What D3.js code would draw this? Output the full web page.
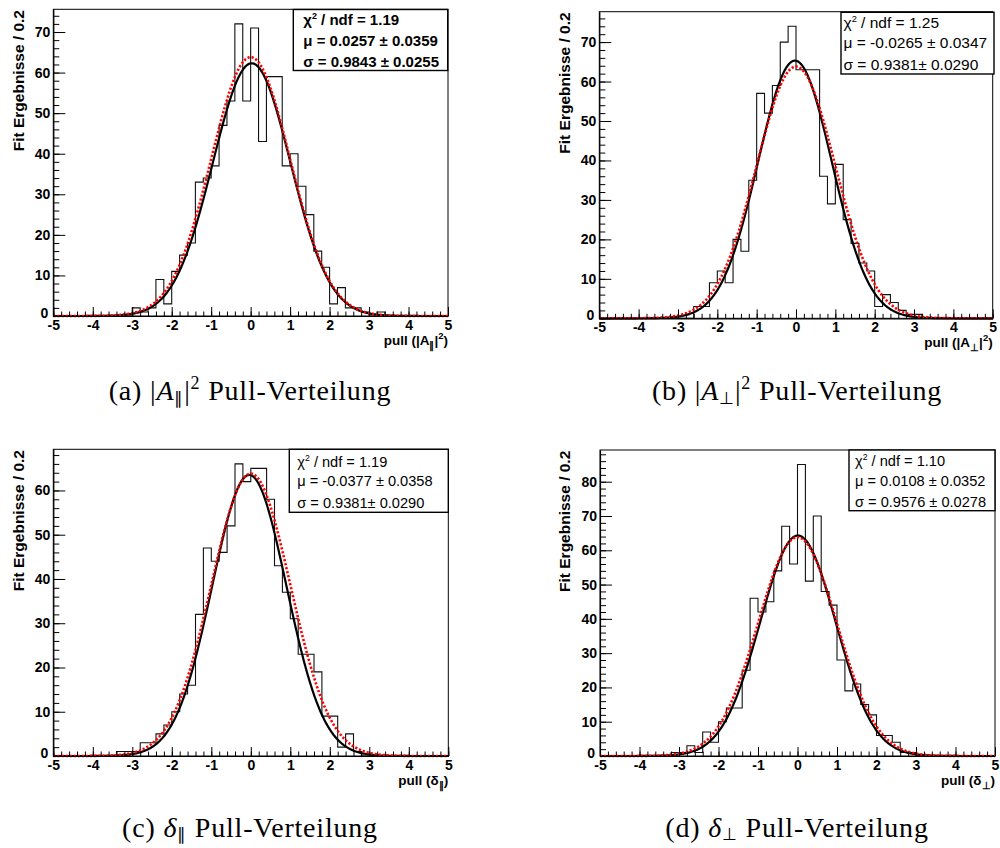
<!DOCTYPE html>
<html>
<head>
<meta charset="utf-8">
<script src="https://cdnjs.cloudflare.com/ajax/libs/d3/7.8.5/d3.min.js"></script>
<style>
  body { margin: 0; background: #fff; }
  svg text { font-family: "Liberation Sans", Arial, Helvetica, sans-serif; }
  .caption { font-family: "Liberation Serif", "Times New Roman", serif; }
</style>
</head>
<body>
<svg id="chart" width="1000" height="848"></svg>
<script>
// histogram binning: 50 bins of 0.2 from -5 to 5
var binStart = -5, binWidth = 0.2;
var xTickValues = [-5, -4, -3, -2, -1, 0, 1, 2, 3, 4, 5];

// bin contents
var countsA = [0,0,0,0,0,0,0,0,0,0, 2,1,2,9,3,11,15,18,33,34, 37,47,53,72,53,71,43,59,59,37, 40,32,25,16,12,3,7,2,2,1, 0,1,0,0,0,0,0,0,0,0];
var countsB = [0,0,0,0,0,0,0,0,0,0, 0,0,3,3,9,12,9,20,17,35, 57,52,59,70,74,63,63,63,36,29, 39,25,19,14,12,3,6,4,2,1, 1,0,0,0,0,0,0,0,0,0];
var countsC = [0,0,0,0,0,0,0,0,1,1, 1,3,3,5,7,10,14,16,32,47, 44,46,52,66,62,65,65,58,43,37, 31,23,23,19,9,9,2,5,1,0, 0,0,0,0,0,0,0,0,0,0];
var countsD = [0,0,0,0,0,0,0,0,0,1, 1,3,1,7,4,10,14,14,25,46, 42,45,54,67,56,85,51,70,48,44, 28,19,21,15,12,6,6,4,1,1, 0,0,0,0,0,0,0,0,0,0];

var yTicksA = [0, 10, 20, 30, 40, 50, 60, 70];
var yTicksB = [0, 10, 20, 30, 40, 50, 60, 70];
var yTicksC = [0, 10, 20, 30, 40, 50, 60];
var yTicksD = [0, 10, 20, 30, 40, 50, 60, 70, 80];

// gaussian fit (black) and expected unit gaussian (red dotted)
var fitMu = [0.0257, -0.0265, -0.0377, 0.0108];
var fitSigma = [0.9843, 0.9381, 0.9381, 0.9576];
var fitPeak = [62.3, 65.3, 63.5, 64.3];
var refMu = 0, refSigma = 1, refPeak = 63.8;

var statsChi = ["1.19", "1.25", "1.19", "1.10"];
var statsMu = ["0.0257 \u00b1 0.0359", "-0.0265 \u00b1 0.0347", "-0.0377 \u00b1 0.0358", "0.0108 \u00b1 0.0352"];
var statsSigma = ["0.9843 \u00b1 0.0255", "0.9381\u00b1 0.0290", "0.9381\u00b1 0.0290", "0.9576 \u00b1 0.0278"];

var titleSym = ["|A", "|A", "\u03b4", "\u03b4"];
var titleSub = ["\u2225", "\u22a5", "\u2225", "\u22a5"];
var captionLetter = ["(a)", "(b)", "(c)", "(d)"];

var yTitle = "Fit Ergebnisse / 0.2";

// layout of the four pads
var layout = [
  { l: 53.3, r: 448, t: 9.3, b: 316, box: [293.3, 9.5, 447.7, 70.5], tx: 303.3, lines: [25, 45.5, 66.5], fs: 15, bold: true, ylx: 23.5, cx: 250, cy: 400 },
  { l: 599.3, r: 992.7, t: 11.7, b: 318.3, box: [841, 12.3, 994, 74], tx: 843.5, lines: [28.3, 48, 69.5], fs: 15.5, bold: false, ylx: 569.5, cx: 797, cy: 400 },
  { l: 53.3, r: 448.3, t: 449.3, b: 756, box: [289.3, 449.3, 448.3, 512.3], tx: 297.3, lines: [466.5, 486, 507.5], fs: 14.6, bold: false, ylx: 23.5, cx: 250, cy: 837 },
  { l: 600, r: 995, t: 450, b: 756, box: [849, 450, 995, 510.7], tx: 855, lines: [466, 485.7, 507], fs: 14.6, bold: false, ylx: 570, cx: 797, cy: 837 }
];

var allCounts = [countsA, countsB, countsC, countsD];
var allYTicks = [yTicksA, yTicksB, yTicksC, yTicksD];

var svg = d3.select("#chart");

layout.forEach(function (p, k) {
  var counts = allCounts[k];
  var g = svg.append("g");

  var x = d3.scaleLinear().domain([-5, 5]).range([p.l, p.r]);
  var ymax = 1.05 * d3.max(counts);
  var y = d3.scaleLinear().domain([0, ymax]).range([p.b, p.t]);

  // frame
  g.append("rect").attr("x", p.l).attr("y", p.t).attr("width", p.r - p.l).attr("height", p.b - p.t)
    .attr("fill", "none").attr("stroke", "#000").attr("stroke-width", 1);

  // histogram outline
  var steps = counts.map(function (c, i) { return [binStart + i * binWidth, c]; });
  steps.push([binStart + counts.length * binWidth, counts[counts.length - 1]]);
  var stepLine = d3.line().x(function (d) { return x(d[0]); }).y(function (d) { return y(d[1]); }).curve(d3.curveStepAfter);
  g.append("path").datum(steps).attr("d", stepLine).attr("fill", "none").attr("stroke", "#111").attr("stroke-width", 1.1);

  // curves
  var xs = d3.range(-5, 5.0001, 0.02);
  var curve = d3.line().x(function (d) { return x(d[0]); }).y(function (d) { return y(d[1]); });
  var fitPts = xs.map(function (v) { return [v, fitPeak[k] * Math.exp(-Math.pow(v - fitMu[k], 2) / (2 * fitSigma[k] * fitSigma[k]))]; });
  var refPts = xs.map(function (v) { return [v, refPeak * Math.exp(-Math.pow(v - refMu, 2) / (2 * refSigma * refSigma))]; });
  g.append("path").datum(fitPts).attr("d", curve).attr("fill", "none").attr("stroke", "#000").attr("stroke-width", 2.2);
  g.append("path").datum(refPts).attr("d", curve).attr("fill", "none").attr("stroke", "#ff0000")
    .attr("stroke-width", 2.6).attr("stroke-dasharray", "2.2,1.9");

  // x axis, major + minor ticks pointing inward
  var xAxis = g.append("g").attr("transform", "translate(0," + p.b + ")")
    .call(d3.axisBottom(x).tickValues(xTickValues).tickSizeInner(-9).tickSizeOuter(0).tickPadding(4)
      .tickFormat(function (d) { return String(d); }));
  xAxis.select(".domain").attr("stroke-width", 1.2);
  xAxis.selectAll("text").attr("font-size", "14px").attr("font-weight", "bold").attr("fill", "#000");
  var xMinor = g.append("g").attr("transform", "translate(0," + p.b + ")")
    .call(d3.axisBottom(x).tickValues(d3.range(-5, 5.0001, 0.2)).tickSizeInner(-4.5).tickSizeOuter(0).tickFormat(""));
  xMinor.select(".domain").remove();

  // y axis
  var yAxis = g.append("g").attr("transform", "translate(" + p.l + ",0)")
    .call(d3.axisLeft(y).tickValues(allYTicks[k]).tickSizeInner(-12).tickSizeOuter(0).tickPadding(3)
      .tickFormat(function (d) { return String(d); }));
  yAxis.select(".domain").attr("stroke-width", 1.2);
  yAxis.selectAll("text").attr("font-size", "14px").attr("font-weight", "bold").attr("fill", "#000");
  // the zero label sits a little left and above, as in ROOT, so it clears the "-5"
  yAxis.selectAll(".tick").filter(function (d) { return d === 0; }).select("text")
    .attr("x", -5).attr("dy", "0.1em");
  var yMinor = g.append("g").attr("transform", "translate(" + p.l + ",0)")
    .call(d3.axisLeft(y).tickValues(d3.range(0, ymax, 2)).tickSizeInner(-6).tickSizeOuter(0).tickFormat(""));
  yMinor.select(".domain").remove();

  // y title
  g.append("text").attr("transform", "translate(" + p.ylx + "," + (p.t + 0.7) + ") rotate(-90)")
    .attr("text-anchor", "end").attr("font-size", "15.5px").attr("font-weight", "bold").text(yTitle);

  // x title
  var xt = g.append("text").attr("x", p.r).attr("y", p.b + 29).attr("text-anchor", "end")
    .attr("font-size", "13.5px").attr("font-weight", "bold");
  xt.append("tspan").text("pull (" + titleSym[k]);
  xt.append("tspan").attr("dy", 4).attr("font-size", "9.5px").text(titleSub[k]);
  if (k < 2) {
    xt.append("tspan").attr("dy", -4).text("|");
    xt.append("tspan").attr("dy", -6).attr("font-size", "9.5px").text("2");
    xt.append("tspan").attr("dy", 6).text(")");
  } else {
    xt.append("tspan").attr("dy", -4).text(")");
  }

  // stats box
  var bx = p.box;
  g.append("rect").attr("x", bx[0]).attr("y", bx[1]).attr("width", bx[2] - bx[0]).attr("height", bx[3] - bx[1])
    .attr("fill", "#fff").attr("stroke", "#000").attr("stroke-width", 1.4);
  var weight = p.bold ? "bold" : "normal";
  var t1 = g.append("text").attr("x", p.tx).attr("y", p.lines[0]).attr("font-size", p.fs + "px").attr("font-weight", weight);
  t1.append("tspan").text("\u03c7");
  t1.append("tspan").attr("dy", -p.fs * 0.4).attr("font-size", (p.fs * 0.6) + "px").text("2");
  t1.append("tspan").attr("dy", p.fs * 0.4).text(" / ndf = " + statsChi[k]);
  g.append("text").attr("x", p.tx).attr("y", p.lines[1]).attr("font-size", p.fs + "px").attr("font-weight", weight)
    .text("\u03bc = " + statsMu[k]);
  g.append("text").attr("x", p.tx).attr("y", p.lines[2]).attr("font-size", p.fs + "px").attr("font-weight", weight)
    .text("\u03c3 = " + statsSigma[k]);

  // caption
  var cap = svg.append("text").attr("class", "caption").attr("x", p.cx).attr("y", p.cy)
    .attr("text-anchor", "middle").attr("font-size", "28px").attr("letter-spacing", "0.8px");
  if (k < 2) {
    cap.append("tspan").text(captionLetter[k] + " |");
    cap.append("tspan").attr("font-style", "italic").text("A");
    cap.append("tspan").attr("dy", 4).attr("font-size", "17px").text(titleSub[k]);
    cap.append("tspan").attr("dy", -4).text("|");
    cap.append("tspan").attr("dy", -11).attr("font-size", "18px").text("2");
    cap.append("tspan").attr("dy", 11).text(" Pull-Verteilung");
  } else {
    cap.append("tspan").text(captionLetter[k] + " ");
    cap.append("tspan").attr("font-style", "italic").text("\u03b4");
    cap.append("tspan").attr("dy", 3).attr("font-size", "17px").text(titleSub[k]);
    cap.append("tspan").attr("dy", -3).text(" Pull-Verteilung");
  }
});
</script>
</body>
</html>
